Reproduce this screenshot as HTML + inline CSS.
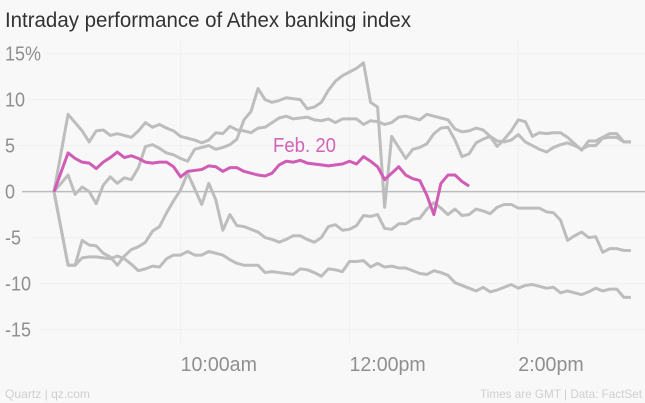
<!DOCTYPE html>
<html lang="en">
<head>
<meta charset="utf-8">
<title>Intraday performance of Athex banking index</title>
<style>
html,body{margin:0;padding:0;background:#f8f8f8;}
svg{display:block;font-family:"Liberation Sans",sans-serif;}
</style>
</head>
<body>
<svg id="chart" width="645" height="403" viewBox="0 0 645 403" xmlns="http://www.w3.org/2000/svg">
  <rect x="0" y="0" width="645" height="403" fill="#f8f8f8"/>
  <g id="grid"></g>
  <g id="ylabels"></g>
  <g id="xlabels"></g>
  <g id="series"></g>
  <text x="5" y="27" font-size="21" fill="#333" textLength="406" lengthAdjust="spacingAndGlyphs">Intraday performance of Athex banking index</text>
  <text x="273" y="152" font-size="20" fill="#d163b8" textLength="63" lengthAdjust="spacingAndGlyphs">Feb. 20</text>
  <text x="5" y="398" font-size="12" fill="#cfcfcf" textLength="85" lengthAdjust="spacingAndGlyphs">Quartz | qz.com</text>
  <text x="642" y="398" font-size="12" fill="#cfcfcf" text-anchor="end" textLength="162" lengthAdjust="spacingAndGlyphs">Times are GMT | Data: FactSet</text>
</svg>
<script>
var yTickValues = [15, 10, 5, 0, -5, -10, -15];
var yTickLabels = ["15%", "10", "5", "0", "-5", "-10", "-15"];
var xTickIndexes = [18, 42, 66];
var xTickLabels = ["10:00am", "12:00pm", "2:00pm"];

var seriesA = [0,4.2,8.4,7.5,6.6,5.4,6.6,6.7,6.1,6.3,6.1,5.9,6.6,7.5,7.0,7.3,6.9,6.6,6.0,5.8,5.6,5.3,5.6,6.4,6.3,7.1,6.7,6.6,6.4,6.9,7.0,7.5,8.0,8.2,7.9,8.0,8.1,7.8,7.7,7.9,7.5,7.9,7.9,7.9,7.3,7.7,7.6,7.3,7.5,8.1,8.2,8.0,7.8,8.4,8.2,8.0,7.8,6.8,6.5,6.6,6.9,6.7,6.0,4.9,5.7,6.6,7.8,7.6,6.0,6.4,6.3,6.4,6.4,5.9,5.2,4.5,5.5,5.5,5.9,6.3,6.3,5.4,5.4];
var seriesC = [0,0.9,1.8,-0.3,0.5,0,-1.3,0.7,1.6,0.9,1.5,1.3,2.6,4.9,5.1,4.7,4.2,4.0,3.6,3.3,4.6,4.8,5.0,4.6,4.8,5.1,5.7,7.8,8.7,11.2,10.0,9.7,9.9,10.2,10.1,10.0,9.0,9.2,9.7,11.0,12.0,12.6,13.0,13.4,14.0,9.7,9.2,-1.7,6.0,4.8,3.6,4.6,4.8,5.2,6.3,6.9,7.0,5.6,3.8,4.1,5.3,5.7,6.0,5.5,5.4,5.6,6.2,5.4,5.0,4.6,4.3,4.8,5.1,5.3,5.0,4.6,5.0,5.0,5.8,5.9,5.9,5.4,5.4];
var seriesD = [0,-4,-8,-8,-5.3,-5.8,-5.9,-6.7,-7.1,-8.0,-7.0,-6.3,-6.0,-5.5,-4.3,-3.8,-2.3,-1.0,0.2,2.0,0.3,-1.4,0.9,-0.9,-4.2,-2.5,-3.7,-3.8,-4.1,-4.4,-5.0,-5.2,-5.5,-5.2,-4.8,-4.8,-5.2,-5.5,-5.0,-3.8,-3.6,-4.2,-4.1,-3.7,-2.6,-2.7,-2.5,-4.0,-4.1,-3.5,-3.5,-3.0,-2.9,-1.9,-1.2,-1.8,-2.5,-1.9,-2.6,-2.5,-1.9,-2.1,-2.4,-1.7,-1.4,-1.4,-1.8,-1.8,-1.8,-1.8,-2.2,-2.3,-3.1,-5.3,-4.8,-4.4,-5.0,-4.9,-6.6,-6.2,-6.2,-6.4,-6.4];
var seriesE = [0,-4,-8,-8,-7.2,-7.1,-7.1,-7.2,-7.3,-7.0,-7.3,-7.9,-8.6,-8.4,-8.1,-8.2,-7.3,-6.9,-6.9,-6.5,-6.9,-6.9,-6.5,-6.7,-6.9,-7.4,-7.8,-8.0,-8.0,-8.0,-8.8,-8.7,-8.8,-8.9,-9.0,-8.4,-8.5,-8.8,-9.2,-8.4,-8.5,-8.7,-7.6,-7.6,-7.5,-8.2,-7.8,-8.2,-8.1,-8.3,-8.3,-8.6,-8.9,-9.0,-8.6,-8.8,-9.1,-9.9,-10.2,-10.5,-10.8,-10.4,-10.9,-10.7,-10.4,-10.1,-10.5,-10.2,-10.1,-10.3,-10.5,-10.4,-11.0,-10.8,-11.0,-11.2,-10.9,-10.5,-10.8,-10.6,-10.6,-11.5,-11.5];
var seriesFeb20 = [0,2.1,4.2,3.6,3.2,3.1,2.5,3.2,3.7,4.3,3.7,3.9,3.6,3.2,3.1,3.2,3.2,2.7,1.6,2.2,2.3,2.4,2.8,2.7,2.2,2.6,2.6,2.2,2.0,1.8,1.7,2.0,2.9,3.3,3.2,3.4,3.1,3.0,2.9,2.8,2.9,3.0,3.3,3.0,3.8,3.3,2.7,1.3,2.0,2.7,1.8,1.4,1.2,-0.4,-2.5,0.9,1.8,1.8,1.1,0.6];

var SVG_NS = "http://www.w3.org/2000/svg";
function xScale(i) { return 54 + i * 7.035; }
function yScale(v) { return 191.6 - v * 9.2; }
var gridStart = {"15":45, "10":28, "5":18, "0":22, "-5":31, "-10":40, "-15":40};

var gridGroup = document.getElementById("grid");
var yGroup = document.getElementById("ylabels");
var xGroup = document.getElementById("xlabels");
var seriesGroup = document.getElementById("series");

yTickValues.forEach(function (v, i) {
  var line = document.createElementNS(SVG_NS, "line");
  
  
  line.setAttribute("x1", gridStart[String(v)]);
  line.setAttribute("x2", 645);
  line.setAttribute("y1", yScale(v));
  line.setAttribute("y2", yScale(v));
  line.setAttribute("stroke", v === 0 ? "#bcbcbc" : "#f0f0f0");
  line.setAttribute("stroke-width", v === 0 ? 1.5 : 1);
  gridGroup.appendChild(line);

  var label = document.createElementNS(SVG_NS, "text");
  
  
  label.setAttribute("x", 5);
  label.setAttribute("y", yScale(v) + 7);
  label.setAttribute("font-size", 20);
  label.setAttribute("fill", "#8f8f8f");
  label.textContent = yTickLabels[i];
  yGroup.appendChild(label);
  label.setAttribute("textLength", (label.getComputedTextLength() * 0.9).toFixed(1));
  label.setAttribute("lengthAdjust", "spacingAndGlyphs");
});

xTickIndexes.forEach(function (idx, i) {
  var line = document.createElementNS(SVG_NS, "line");
  
  
  line.setAttribute("x1", xScale(idx));
  line.setAttribute("x2", xScale(idx));
  line.setAttribute("y1", 40);
  line.setAttribute("y2", 345);
  line.setAttribute("stroke", "#f0f0f0");
  line.setAttribute("stroke-width", 1);
  gridGroup.insertBefore(line, gridGroup.firstChild);

  var label = document.createElementNS(SVG_NS, "text");
  
  
  label.setAttribute("x", xScale(idx));
  label.setAttribute("y", 371);
  label.setAttribute("font-size", 20);
  label.setAttribute("fill", "#8f8f8f");
  label.textContent = xTickLabels[i];
  xGroup.appendChild(label);
  label.setAttribute("textLength", (label.getComputedTextLength() * 0.98).toFixed(1));
  label.setAttribute("lengthAdjust", "spacingAndGlyphs");
});

function drawLine(values, color, width) {
  var d = values.map(function (v, i) {
    return (i === 0 ? "M" : "L") + xScale(i).toFixed(2) + " " + yScale(v).toFixed(2);
  }).join(" ");
  var path = document.createElementNS(SVG_NS, "path");
  path.setAttribute("d", d);
  path.setAttribute("fill", "none");
  path.setAttribute("stroke", color);
  path.setAttribute("stroke-width", width);
  path.setAttribute("stroke-linejoin", "round");
  seriesGroup.appendChild(path);
  return path;
}

var lineA = drawLine(seriesA, "#bdbdbd", 3);


var lineC = drawLine(seriesC, "#bdbdbd", 3);


var lineD = drawLine(seriesD, "#bdbdbd", 3);


var lineE = drawLine(seriesE, "#bdbdbd", 3);


var lineFeb = drawLine(seriesFeb20, "#d05cb5", 3);


</script>
</body>
</html>
